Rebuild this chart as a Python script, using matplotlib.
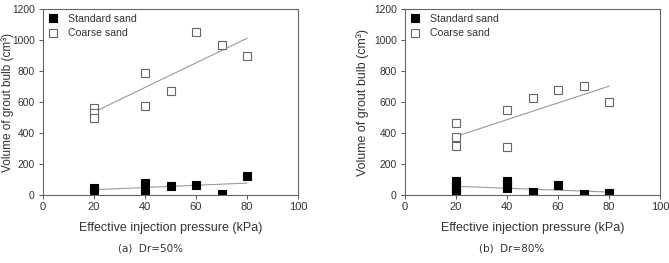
import matplotlib
matplotlib.use("Agg")
import matplotlib.pyplot as plt

plt.rcParams['font.family'] = ['Liberation Sans', 'DejaVu Sans']

# (a) Dr=50%
a_std_x = [20, 20, 40, 40, 50, 60, 70, 80]
a_std_y = [45, 32, 75, 19, 58, 67, 6, 125]
a_coarse_x = [20, 20, 20, 40, 40, 50, 60, 70, 80]
a_coarse_y = [560, 528, 496, 784, 571, 674, 1052, 966, 900]
a_std_fit = [34, 77]
a_coarse_fit = [535, 1011]

# (b) Dr=80%
b_std_x = [20, 20, 20, 20, 40, 40, 40, 50, 60, 70, 80]
b_std_y = [92, 65, 40, 18, 90, 70, 45, 17, 66, 7, 13]
b_coarse_x = [20, 20, 20, 40, 40, 50, 60, 70, 80]
b_coarse_y = [466, 376, 316, 547, 311, 629, 676, 704, 601]
b_std_fit = [56, 19]
b_coarse_fit = [378, 702]

fit_x = [20, 80]
captions = ['(a)  Dr=50%', '(b)  Dr=80%']

W, H = 669, 263
fig = plt.figure(figsize=(W / 100, H / 100), dpi=100)

# axes left edge (px), wanted left edge of the y label (px), label size
panels = [
    (43, 1, 8.5, a_std_x, a_std_y, a_coarse_x, a_coarse_y, a_std_fit, a_coarse_fit),
    (405, 356, 9, b_std_x, b_std_y, b_coarse_x, b_coarse_y, b_std_fit, b_coarse_fit),
]

axes = []
for k, (left, lab_x0, lab_fs, sx, sy, cx, cy, sfit, cfit) in enumerate(panels):
    ax = fig.add_axes([left / W, (H - 195) / H, 255 / W, 186 / H])
    ax.plot(fit_x, sfit, color='#999999', lw=0.8)
    ax.plot(fit_x, cfit, color='#999999', lw=0.8)
    ax.plot(sx, sy, 's', ms=5.3, mfc='black', mec='black', mew=0.8,
            ls='none', label='Standard sand')
    ax.plot(cx, cy, 's', ms=5.3, mfc='white', mec='#666666', mew=0.8,
            ls='none', label='Coarse sand')
    ax.set_xlim(0, 100)
    ax.set_ylim(0, 1200)
    ax.set_xticks(range(0, 101, 20))
    ax.set_yticks(range(0, 1201, 200))
    ax.tick_params(direction='out', length=3, width=0.7, color='#555555',
                   labelsize=7.4, labelcolor='#333333', pad=3)
    ax.tick_params(axis='x', labelsize=8, pad=2)
    for s in ax.spines.values():
        s.set_color('#666666')
        s.set_linewidth(0.8)
    ax.set_xlabel('Effective injection pressure (kPa)', fontsize=9,
                  color='#333333', labelpad=7)
    ax.set_ylabel('Volume of grout bulb (cm³)', fontsize=lab_fs,
                  color='#333333')
    ax.yaxis.set_label_coords(-0.15, 0.5)
    leg = ax.legend(loc='upper left', frameon=False, fontsize=7.6,
                    handletextpad=0.9, borderaxespad=0.3, labelspacing=0.45,
                    handlelength=1.0, borderpad=0.15)
    for t in leg.get_texts():
        t.set_color('#333333')
    ax.text(0.42, -0.29, captions[k], transform=ax.transAxes, ha='center',
            va='center', fontsize=7.5, color='#333333', family='DejaVu Sans')
    axes.append((ax, lab_x0))

# shift the y labels so their left edges sit where wanted
fig.canvas.draw()
for ax, lab_x0 in axes:
    bb = ax.yaxis.label.get_window_extent()
    ax_w = ax.get_window_extent().width
    ax.yaxis.set_label_coords(-0.15 + (lab_x0 - bb.x0) / ax_w, 0.5)

fig.savefig('out.png', dpi=100)
